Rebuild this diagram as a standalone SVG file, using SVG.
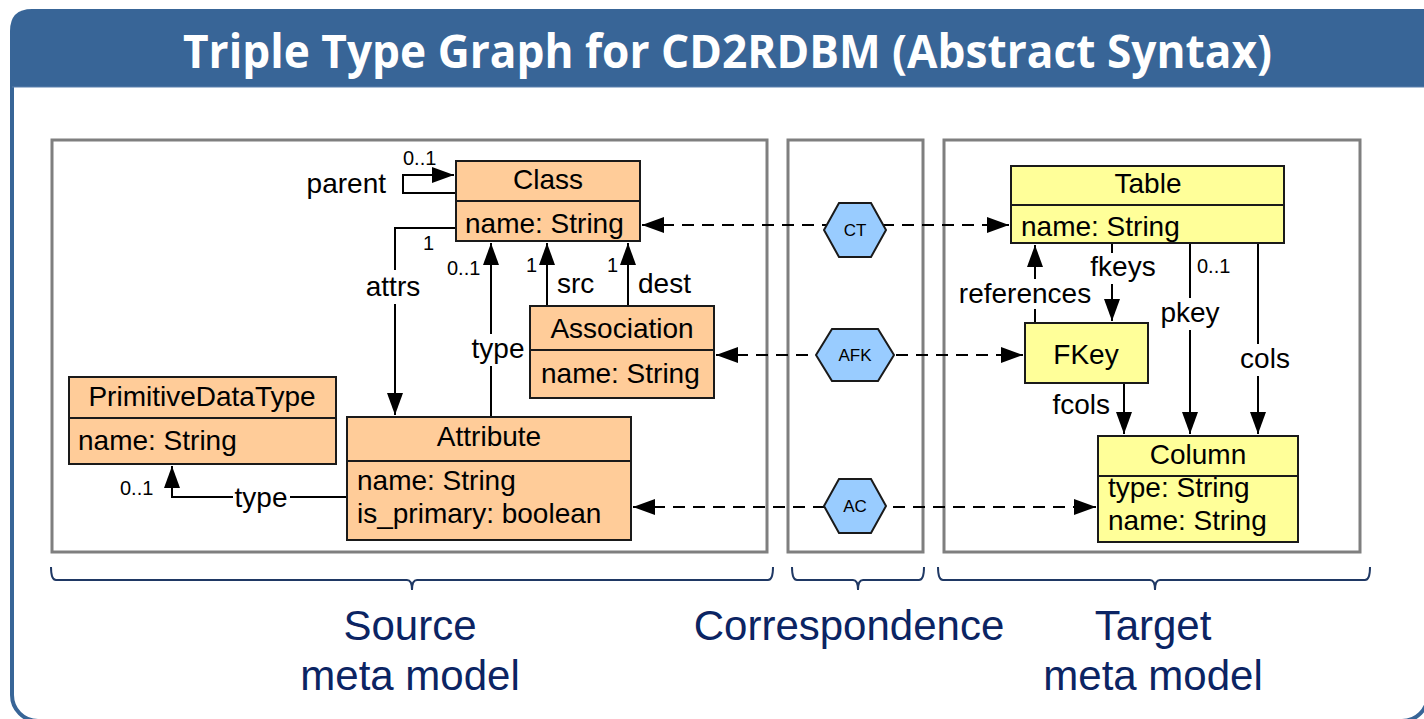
<svg xmlns="http://www.w3.org/2000/svg" width="1424" height="719" viewBox="0 0 1424 719">
  <defs>
    <style>
      .frame { fill: #ffffff; stroke: #386597; stroke-width: 4; }
      .bar { fill: #386597; }
      .title { font-family: "Open Sans", "Liberation Sans", sans-serif; font-weight: 700; font-size: 46px; fill: #ffffff; }
      .panel { fill: none; stroke: #7f7f7f; stroke-width: 3; }
      .src { fill: #ffcc99; stroke: #1a1a1a; stroke-width: 2; }
      .tgt { fill: #ffff99; stroke: #1a1a1a; stroke-width: 2; }
      .hex { fill: #99ccff; stroke: #1a1a1a; stroke-width: 2; }
      .sep { stroke: #1a1a1a; stroke-width: 2; }
      .t { font-family: "Liberation Sans", Arial, sans-serif; font-size: 28px; fill: #000000; }
      .m { font-family: "Liberation Sans", Arial, sans-serif; font-size: 20px; fill: #000000; }
      .h { font-family: "Liberation Sans", Arial, sans-serif; font-size: 17px; fill: #000000; text-anchor: middle; }
      .c { text-anchor: middle; }
      .e { text-anchor: end; }
      .edge { fill: none; stroke: #000000; stroke-width: 2; }
      .dash { fill: none; stroke: #000000; stroke-width: 2; stroke-dasharray: 12 8; }
      .brace { fill: none; stroke: #1f3864; stroke-width: 2; }
      .cap { font-family: "Liberation Sans", Arial, sans-serif; font-size: 42px; fill: #0b2463; text-anchor: middle; }
    </style>
    <marker id="arrow" markerUnits="userSpaceOnUse" markerWidth="24" markerHeight="18" refX="22" refY="8" orient="auto-start-reverse">
      <path d="M0,0 L22,8 L0,16 z" fill="#000000"/>
    </marker>
  </defs>

  <!-- slide frame and title bar -->
  <rect class="frame" x="12" y="11" width="1416" height="710" rx="26" ry="26"/>
  <path class="bar" d="M10,87 V31 Q10,9 32,9 H1424 V87 Z"/>
  <line x1="12" y1="87" x2="1424" y2="87" stroke="#5b80ad" stroke-width="1"/>
  <text class="title" x="183" y="68" textLength="1089" lengthAdjust="spacingAndGlyphs">Triple Type Graph for CD2RDBM (Abstract Syntax)</text>

  <!-- model panels -->
  <g id="panels">
    <rect class="panel" x="52" y="140" width="715" height="412"/>
    <rect class="panel" x="788" y="140" width="135" height="412"/>
    <rect class="panel" x="944" y="140" width="416" height="412"/>
  </g>

  <!-- connectors -->
  <g id="connectors">
    <!-- Class.parent self loop -->
    <path class="edge" d="M456,193 H403 V175 H454" marker-end="url(#arrow)"/>
    <text class="m" x="403" y="165">0..1</text>
    <text class="t e" x="386" y="193">parent</text>

    <!-- Class.attrs -> Attribute -->
    <path class="edge" d="M456,228 H395 V270"/>
    <path class="edge" d="M395,304 V415" marker-end="url(#arrow)"/>
    <text class="m" x="423" y="250">1</text>
    <text class="t c" x="393" y="296">attrs</text>

    <!-- Attribute.type -> Class -->
    <path class="edge" d="M491,417 V366"/>
    <path class="edge" d="M491,334 V243" marker-end="url(#arrow)"/>
    <text class="m" x="447" y="275">0..1</text>
    <text class="t c" x="498" y="358">type</text>

    <!-- Association.src / dest -> Class -->
    <path class="edge" d="M547,306 V243" marker-end="url(#arrow)"/>
    <text class="m" x="526" y="272">1</text>
    <text class="t" x="557" y="293">src</text>
    <path class="edge" d="M628,306 V243" marker-end="url(#arrow)"/>
    <text class="m" x="607" y="272">1</text>
    <text class="t" x="638" y="293">dest</text>

    <!-- Attribute.type -> PrimitiveDataType -->
    <path class="edge" d="M347,497 H290"/>
    <path class="edge" d="M233,497 H172 V466" marker-end="url(#arrow)"/>
    <text class="m" x="120" y="495">0..1</text>
    <text class="t c" x="261" y="507">type</text>

    <!-- correspondence links -->
    <path class="dash" d="M642,225 H1009" marker-start="url(#arrow)" marker-end="url(#arrow)"/>
    <path class="dash" d="M716,355 H1023" marker-start="url(#arrow)" marker-end="url(#arrow)"/>
    <path class="dash" d="M633,507 H1096" marker-start="url(#arrow)" marker-end="url(#arrow)"/>

    <!-- FKey.references -> Table -->
    <path class="edge" d="M1035,323 V309"/>
    <path class="edge" d="M1035,279 V245" marker-end="url(#arrow)"/>
    <text class="t c" x="1025" y="303">references</text>

    <!-- Table.fkeys -> FKey -->
    <path class="edge" d="M1112,243 V253"/>
    <path class="edge" d="M1112,284 V321" marker-end="url(#arrow)"/>
    <text class="t c" x="1123" y="276">fkeys</text>

    <!-- Table.pkey -> Column -->
    <path class="edge" d="M1190,243 V298"/>
    <path class="edge" d="M1190,330 V434" marker-end="url(#arrow)"/>
    <text class="m" x="1197" y="273">0..1</text>
    <text class="t c" x="1190" y="322">pkey</text>

    <!-- Table.cols -> Column -->
    <path class="edge" d="M1258,243 V344"/>
    <path class="edge" d="M1258,376 V434" marker-end="url(#arrow)"/>
    <text class="t c" x="1265" y="368">cols</text>

    <!-- FKey.fcols -> Column -->
    <path class="edge" d="M1124,383 V434" marker-end="url(#arrow)"/>
    <text class="t e" x="1110" y="414">fcols</text>
  </g>

  <!-- source meta model -->
  <g id="class">
    <rect class="src" x="456" y="161" width="184" height="80"/>
    <line class="sep" x1="456" y1="201" x2="640" y2="201"/>
    <text class="t c" x="548" y="189">Class</text>
    <text class="t" x="465" y="233">name: String</text>
  </g>
  <g id="association">
    <rect class="src" x="530" y="306" width="184" height="92"/>
    <line class="sep" x1="530" y1="350" x2="714" y2="350"/>
    <text class="t c" x="622" y="338">Association</text>
    <text class="t" x="541" y="383">name: String</text>
  </g>
  <g id="primitive-data-type">
    <rect class="src" x="69" y="377" width="267" height="87"/>
    <line class="sep" x1="69" y1="418" x2="336" y2="418"/>
    <text class="t c" x="202" y="406">PrimitiveDataType</text>
    <text class="t" x="78" y="450">name: String</text>
  </g>
  <g id="attribute">
    <rect class="src" x="347" y="417" width="284" height="123"/>
    <line class="sep" x1="347" y1="461" x2="631" y2="461"/>
    <text class="t c" x="489" y="446">Attribute</text>
    <text class="t" x="357" y="490">name: String</text>
    <text class="t" x="357" y="523">is_primary: boolean</text>
  </g>

  <!-- correspondence nodes -->
  <g id="ct">
    <polygon class="hex" points="824,230 839,203 871,203 886,230 871,257 839,257"/>
    <text class="h" x="855" y="236">CT</text>
  </g>
  <g id="afk">
    <polygon class="hex" points="816,355 832,329 878,329 894,355 878,381 832,381"/>
    <text class="h" x="855" y="361">AFK</text>
  </g>
  <g id="ac">
    <polygon class="hex" points="824,506 839,479 871,479 886,506 871,533 839,533"/>
    <text class="h" x="855" y="512">AC</text>
  </g>

  <!-- target meta model -->
  <g id="table">
    <rect class="tgt" x="1011" y="166" width="273" height="77"/>
    <line class="sep" x1="1011" y1="205" x2="1284" y2="205"/>
    <text class="t c" x="1148" y="193">Table</text>
    <text class="t" x="1021" y="236">name: String</text>
  </g>
  <g id="fkey">
    <rect class="tgt" x="1025" y="323" width="123" height="60"/>
    <text class="t c" x="1086" y="364">FKey</text>
  </g>
  <g id="column">
    <rect class="tgt" x="1098" y="436" width="200" height="106"/>
    <line class="sep" x1="1098" y1="476" x2="1298" y2="476"/>
    <text class="t c" x="1198" y="464">Column</text>
    <text class="t" x="1108" y="497">type: String</text>
    <text class="t" x="1108" y="530">name: String</text>
  </g>

  <!-- braces and captions -->
  <g id="captions">
    <path class="brace" d="M51,567 Q51,580 56,580 H407 Q412,580 412,590 Q412,580 417,580 H768 Q773,580 773,567"/>
    <path class="brace" d="M792,567 Q792,580 797,580 H853 Q858,580 858,590 Q858,580 863,580 H919 Q924,580 924,567"/>
    <path class="brace" d="M938,567 Q938,580 943,580 H1150 Q1155,580 1155,590 Q1155,580 1160,580 H1365 Q1370,580 1370,567"/>
    <text class="cap" x="410" y="640">Source</text>
    <text class="cap" x="410" y="690">meta model</text>
    <text class="cap" x="849" y="640">Correspondence</text>
    <text class="cap" x="1153" y="640">Target</text>
    <text class="cap" x="1153" y="690">meta model</text>
  </g>
</svg>
